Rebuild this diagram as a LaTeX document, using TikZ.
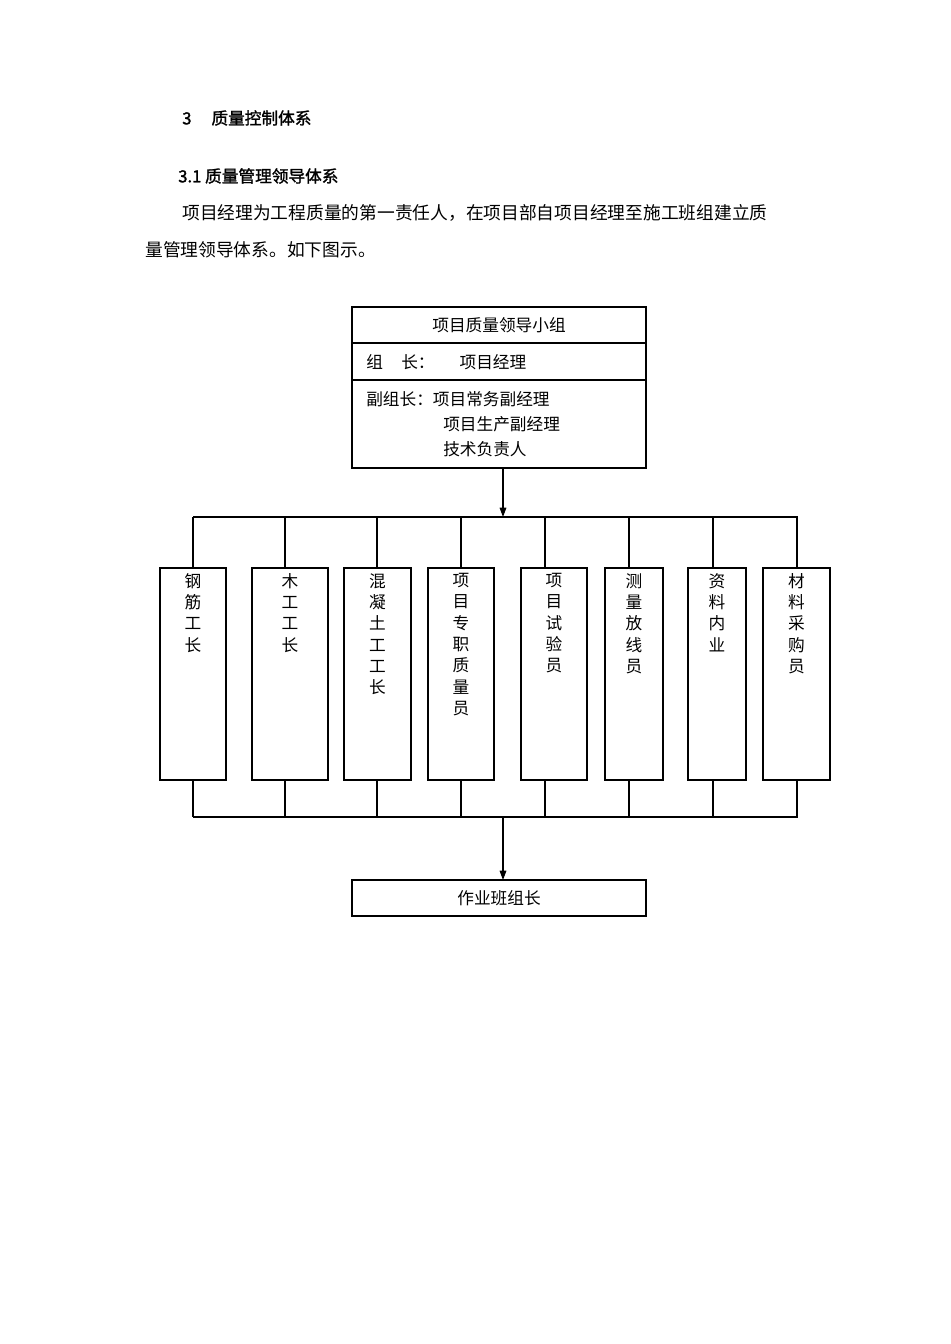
\documentclass[tikz,border=0pt]{standalone}
\usepackage{fontspec}
\setmainfont{Noto Sans CJK SC}
\newfontfamily\cjkb[FakeBold=1.5]{Noto Sans CJK SC}
\usetikzlibrary{arrows.meta}
\begin{document}
\begin{tikzpicture}[x=0.75pt,y=-0.75pt,
  box/.style={draw,line width=0.8pt},
  ln/.style={line width=0.8pt},
  arr/.style={line width=0.8pt,-{Triangle[length=7pt,width=5pt]}},
  txt/.style={font=\fontsize{12.5}{14}\selectfont,inner sep=0pt,anchor=west},
  vt/.style={font=\fontsize{12.5}{16}\selectfont,inner sep=0pt,anchor=north,align=center}]
\useasboundingbox (0,0) rectangle (950,1344);
\node[txt,font=\cjkb\fontsize{12.5}{14}\selectfont] (h1) at (182,118) {3\hspace{1.2em}质量控制体系};
\node[txt,font=\cjkb\fontsize{12.5}{14}\selectfont] (h2) at (178,176) {3.1 质量管理领导体系};
\node[txt,font=\fontsize{13.3}{14}\selectfont] (p1) at (182,213) {项目经理为工程质量的第一责任人，在项目部自项目经理至施工班组建立质};
\node[txt,font=\fontsize{13.3}{14}\selectfont] (p2) at (145,250) {量管理领导体系。如下图示。};
% top box
\draw[box] (352,307) rectangle (646,468);
\draw[ln] (352,343) -- (646,343);
\draw[ln] (352,380) -- (646,380);
\node[txt,anchor=center] (t0) at (499,325) {项目质量领导小组};
\node[txt] (t1) at (366,362) {组\hspace{1.1em}长：\hspace{1.5em}项目经理};
\node[txt] (t2) at (366,399) {副组长：项目常务副经理};
\node[txt] (t3) at (443,424) {项目生产副经理};
\node[txt] (t4) at (443,449) {技术负责人};
\coordinate (topb) at (503,468);
\coordinate (bus1) at (503,517);
\draw[arr] (topb) -- (bus1);
\draw[ln] (193,517) -- (798,517);
\draw[ln] (193,817) -- (798,817);
\foreach \l/\r/\c/\t in {160/226/193/钢\\筋\\工\\长, 252/328/285/木\\工\\工\\长, 344/411/377/混\\凝\\土\\工\\工\\长, 428/494/461/项\\目\\专\\职\\质\\量\\员, 521/587/545/项\\目\\试\\验\\员, 605/663/629/测\\量\\放\\线\\员, 688/746/713/资\\料\\内\\业, 763/830/797/材\\料\\采\\购\\员}{
  \draw[box] (\l,568) rectangle (\r,780);
  \draw[ln] (\c,517) -- (\c,568);
  \draw[ln] (\c,780) -- (\c,817);
  \node[vt] at ({(\l+\r)/2},573) {\t};
}
\coordinate (bus2) at (503,817);
\draw[box] (352,880) rectangle (646,916);
\node[txt,anchor=center] (b) at (499,898) {作业班组长};
\draw[arr] (bus2) -- (503,880);
\end{tikzpicture}
\end{document}
